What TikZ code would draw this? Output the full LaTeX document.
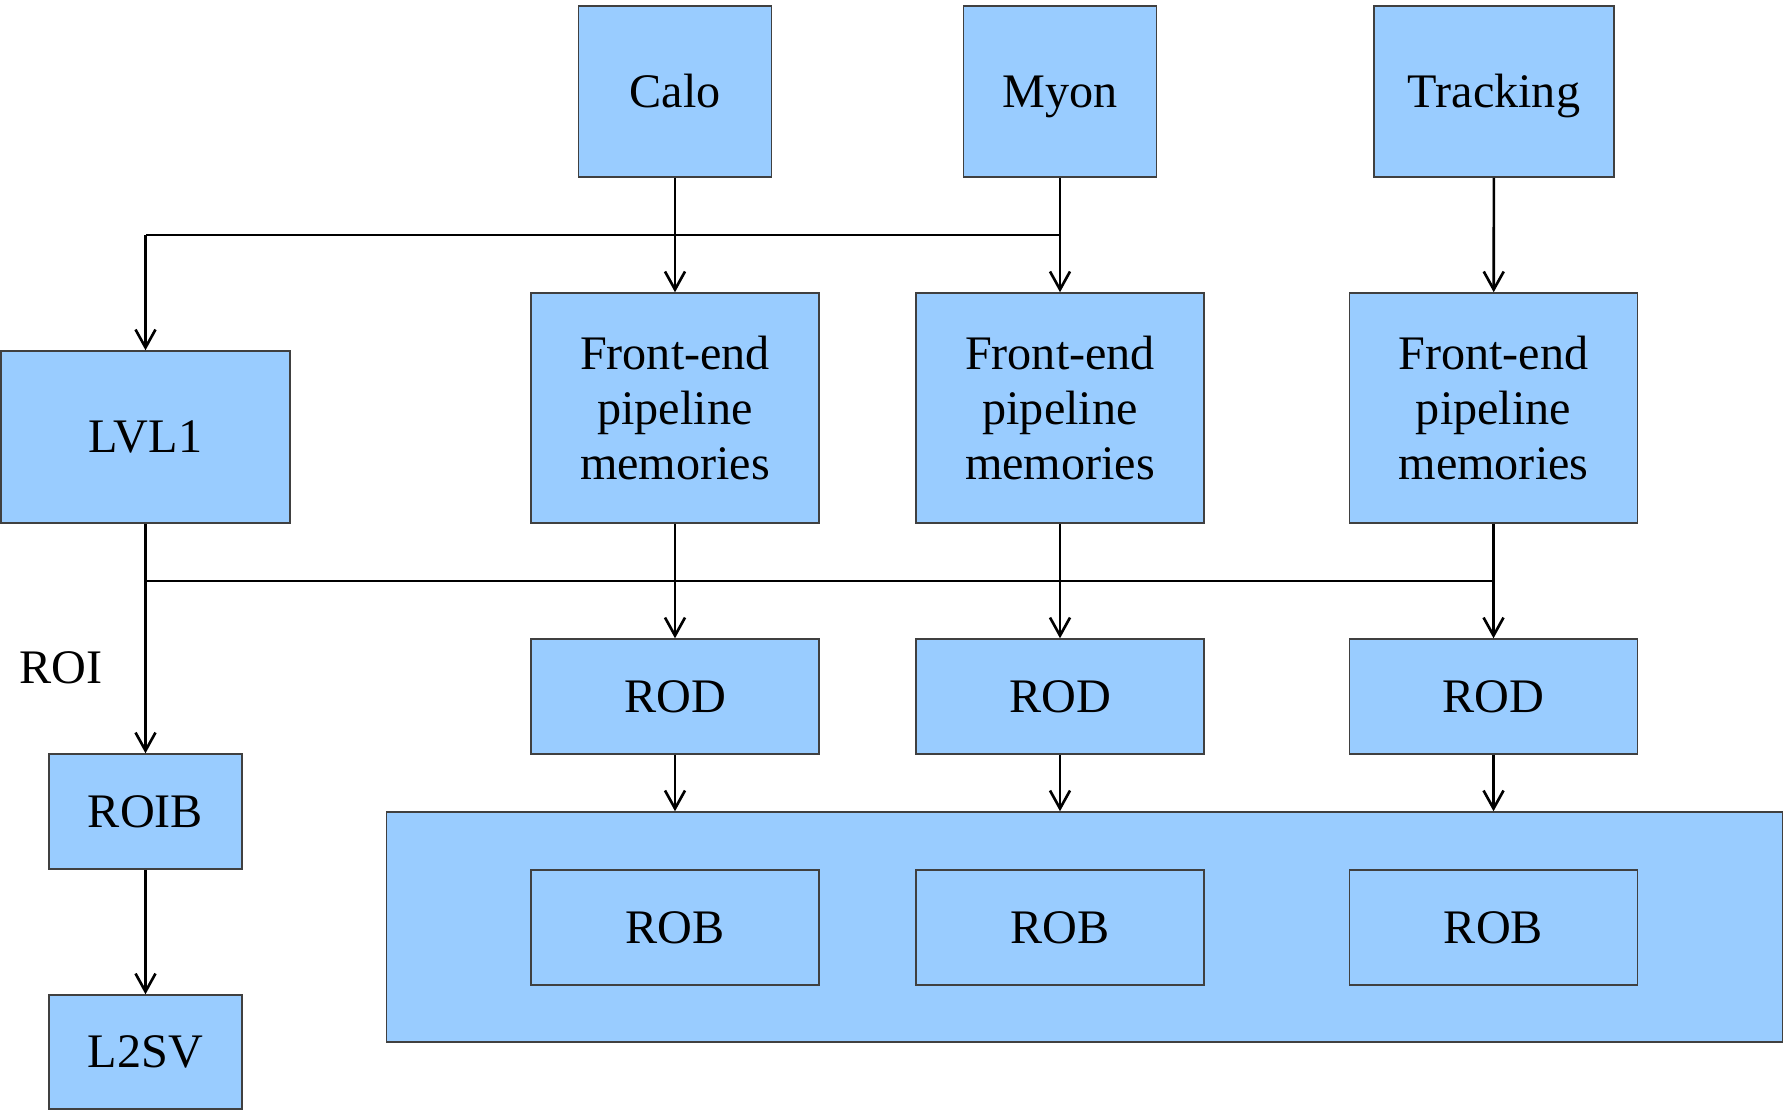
\documentclass[tikz,border=0pt]{standalone}
\usepackage{fontspec}
\setmainfont{Liberation Serif}
\usepackage{tikz}
\usetikzlibrary{arrows.meta, positioning}
\definecolor{boxblue}{HTML}{99CCFF}
\tikzset{
	block/.style={
		rectangle,
		minimum width=2.88cm,
		minimum height=1.15cm,
		inner sep=0pt,
		text centered,
		align=center,
		draw=black!75,
		line width=0.4pt,
		fill=boxblue,
		font=\fontsize{13.7}{15.6}\selectfont
	},
	oneline/.style={
		text height=0.9em,
		text depth=0pt
	},
	smallblock/.style={
		block,
		minimum width=1.93cm
	},
	buffer/.style={
		rectangle,
		minimum width=13.95cm,
		minimum height=2.30cm,
		draw=black!75,
		line width=0.4pt,
		fill=boxblue
	},
	arrow/.style={line width=0.75pt,-{Straight Barb[length=1.8mm,width=2mm]}},
	link/.style={line width=0.4pt}
}

\begin{document}
\begin{tikzpicture}[x=0.01cm, y=-0.01cm]
				\useasboundingbox (0,0) rectangle (1783,1112);
				% detectors
				\node (calo) [smallblock, oneline, minimum height=1.71cm] at (675,91.5) {Calo};
				\node (myon) [smallblock, oneline, minimum height=1.71cm] at (1060,91.5) {Myon};
				\node (track) [block, oneline, minimum width=2.40cm, minimum height=1.71cm] at (1494,91.5) {Tracking};
				
				% front-end
				\node (lvl1) [block, oneline, minimum width=2.89cm, minimum height=1.72cm] at (145.5,437) {LVL1};
				\node (fe1) [block, minimum height=2.30cm] at (675,408) {Front-end\\pipeline\\memories};
				\node (fe2) [block, minimum height=2.30cm] at (1060,408) {Front-end\\pipeline\\memories};
				\node (fe3) [block, minimum height=2.30cm] at (1493.5,408) {Front-end\\pipeline\\memories};
				
				% read-out
				\node (rod1) [block, oneline] at (675,696.5) {ROD};
				\node (rod2) [block, oneline] at (1060,696.5) {ROD};
				\node (rod3) [block, oneline] at (1493.5,696.5) {ROD};
				\node (buf) [buffer] at (1084.5,927) {};
				\node (rob1) [block, oneline] at (675,927.5) {ROB};
				\node (rob2) [block, oneline] at (1060,927.5) {ROB};
				\node (rob3) [block, oneline] at (1493.5,927.5) {ROB};
				
				% level 2
				\node (roib) [smallblock, oneline] at (145.5,811.5) {ROIB};
				\node (l2sv) [smallblock, oneline, minimum height=1.14cm] at (145.5,1052) {L2SV};
				\node (roi) [oneline, font=\fontsize{13.7}{15.6}\selectfont, inner sep=0pt] at (61,668) {ROI};
				
				\coordinate (trig) at (1060,235);
				\coordinate (trigl) at (145.5,235);
				\coordinate (roil) at (145.5,581);
				\coordinate (roir) at (1493.5,581);
				
				\draw [arrow] (calo) -- (fe1);
				\draw [arrow] (myon) -- (fe2);
				\draw [arrow] (track) -- (fe3);
				\draw [link] (trig) -- (trigl);
				\draw [arrow] (trigl) -- (lvl1);
				\draw [link] (roil) -- (roir);
				\draw [arrow] (lvl1) -- (roib);
				\draw [arrow] (roib) -- (l2sv);
				\draw [arrow] (fe1) -- (rod1);
				\draw [arrow] (fe2) -- (rod2);
				\draw [arrow] (fe3) -- (rod3);
				\draw [arrow] (rod1) -- (rod1 |- buf.north);
				\draw [arrow] (rod2) -- (rod2 |- buf.north);
				\draw [arrow] (rod3) -- (rod3 |- buf.north);
			\end{tikzpicture}
\end{document}
